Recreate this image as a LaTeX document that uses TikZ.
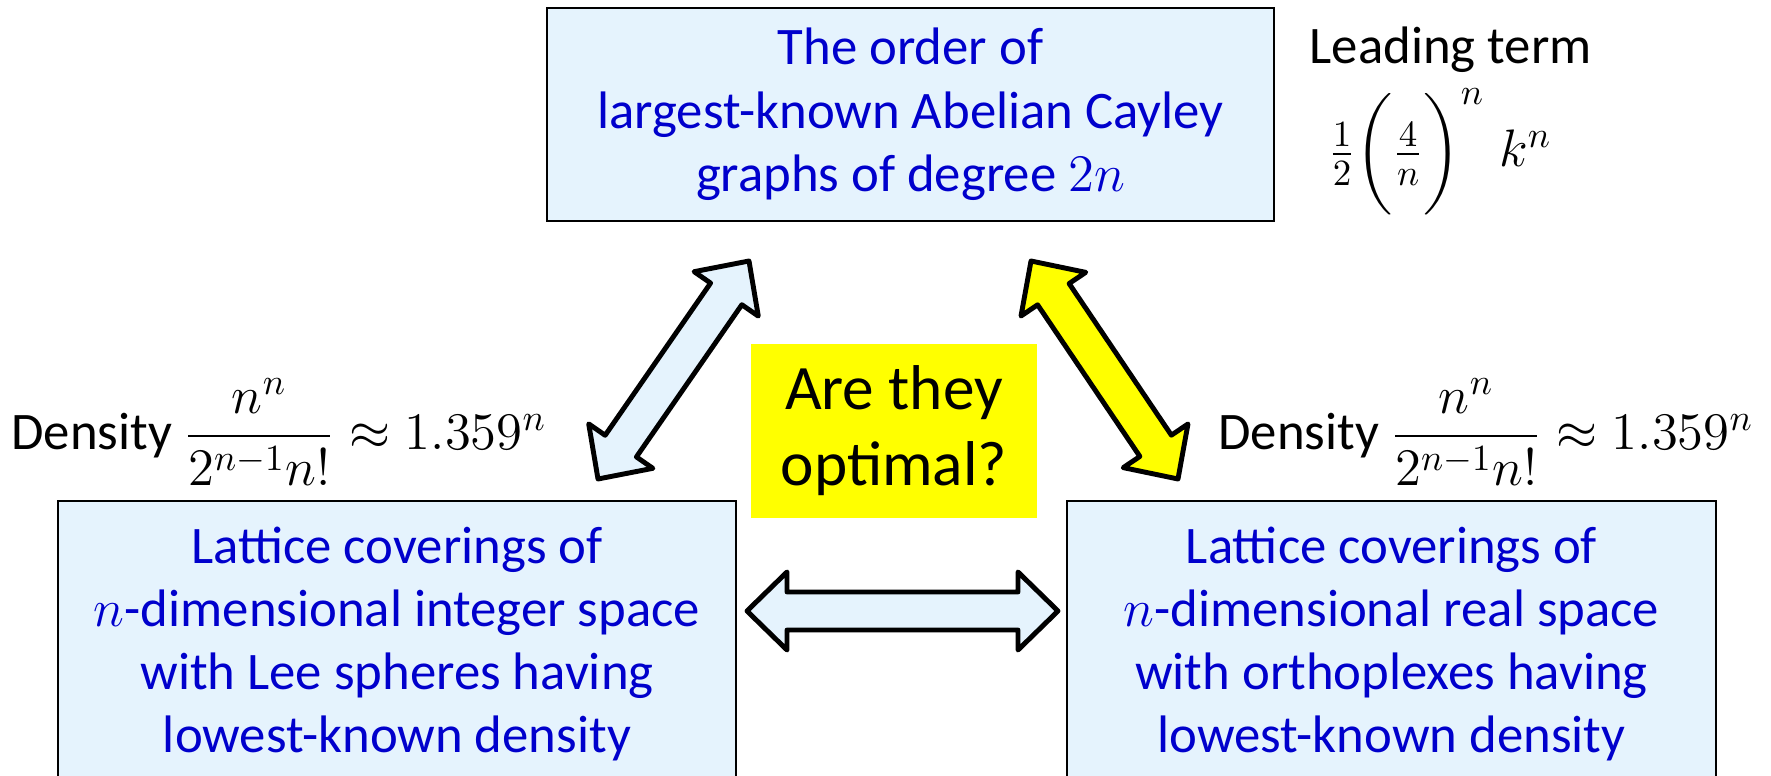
\RequirePackage{fix-cm}
\documentclass[tikz,border=0pt]{standalone}
\usepackage{amsmath}
\usepackage{fontspec}
\setmainfont{Carlito}
\usetikzlibrary{calc}
\definecolor{boxfill}{HTML}{E5F3FD}
\definecolor{txtblue}{HTML}{0000CC}
\definecolor{qyellow}{HTML}{FFFF00}
\tikzset{
  infobox/.style = {draw, line width=0.6pt, fill=boxfill, text=txtblue, align=center,
                    font=\fontsize{15}{18}\selectfont, inner sep=0pt},
  qbox/.style    = {fill=qyellow, align=center, inner sep=0pt,
                    font=\fontsize{18}{21.6}\selectfont,
                    minimum width=2.86cm, minimum height=1.74cm},
  note/.style    = {inner sep=0pt, font=\fontsize{15}{18}\selectfont},
  fatarr/.style  = {draw, line width=1.4pt, line join=round},
}
% fat double arrow between two named points: #1, #2 tips, #3 fill
\newcommand{\fatarrow}[3]{%
  \draw[fatarr, fill=#3] (#1)
    -- ($(#1)!0.40cm!(#2)!0.39cm!90:(#2)$)
    -- ($(#1)!0.40cm!(#2)!0.19cm!90:(#2)$)
    -- ($(#2)!0.40cm!(#1)!0.19cm!-90:(#1)$)
    -- ($(#2)!0.40cm!(#1)!0.39cm!-90:(#1)$)
    -- (#2)
    -- ($(#2)!0.40cm!(#1)!0.39cm!90:(#1)$)
    -- ($(#2)!0.40cm!(#1)!0.19cm!90:(#1)$)
    -- ($(#1)!0.40cm!(#2)!0.19cm!-90:(#2)$)
    -- ($(#1)!0.40cm!(#2)!0.39cm!-90:(#2)$)
    -- cycle;}
\begin{document}
\begin{tikzpicture}[x=0.01cm,y=-0.01cm]
\useasboundingbox (0,0) rectangle (1771,776);
\clip (0,0) rectangle (1771,776);
% the three statements
\node[infobox, minimum width=7.27cm, minimum height=2.13cm] (order) at (910.5,114.5)
  {The order of\\largest-known Abelian Cayley\\graphs of degree $2n$};
\node[infobox, minimum width=6.78cm, minimum height=2.86cm] (intlat) at (397,644)
  {Lattice coverings of\\$n$-dimensional integer space\\with Lee spheres having\\lowest-known density};
\node[infobox, minimum width=6.49cm, minimum height=2.86cm] (reallat) at (1391.5,644)
  {Lattice coverings of\\$n$-dimensional real space\\with orthoplexes having\\lowest-known density};
\node[qbox] (optq) at (894,431) {Are they\\optimal?};
% side notes
\node[note, anchor=base west] (lead) at (1309,64) {Leading term};
\node[note, anchor=base west] (leadf) at (1328,167)
  {$\frac{1}{2}\bigg(\frac{4}{n}\bigg)^{n}\;k^{n}$};
\node[note] (densl) at (279,432) {Density $\dfrac{n^n}{2^{n-1}n!}\approx 1.359^n$};
\node[note] (densr) at (1486,432) {Density $\dfrac{n^n}{2^{n-1}n!}\approx 1.359^n$};
% arrow tips
\coordinate (la-s) at (598,479);
\coordinate (la-e) at (749,261);
\coordinate (ra-s) at (1031,261);
\coordinate (ra-e) at (1178,479);
\coordinate (ha-s) at (747,611);
\coordinate (ha-e) at (1058,611);
\fatarrow{la-s}{la-e}{boxfill}
\fatarrow{ra-s}{ra-e}{qyellow}
\fatarrow{ha-s}{ha-e}{boxfill}
\end{tikzpicture}
\end{document}
